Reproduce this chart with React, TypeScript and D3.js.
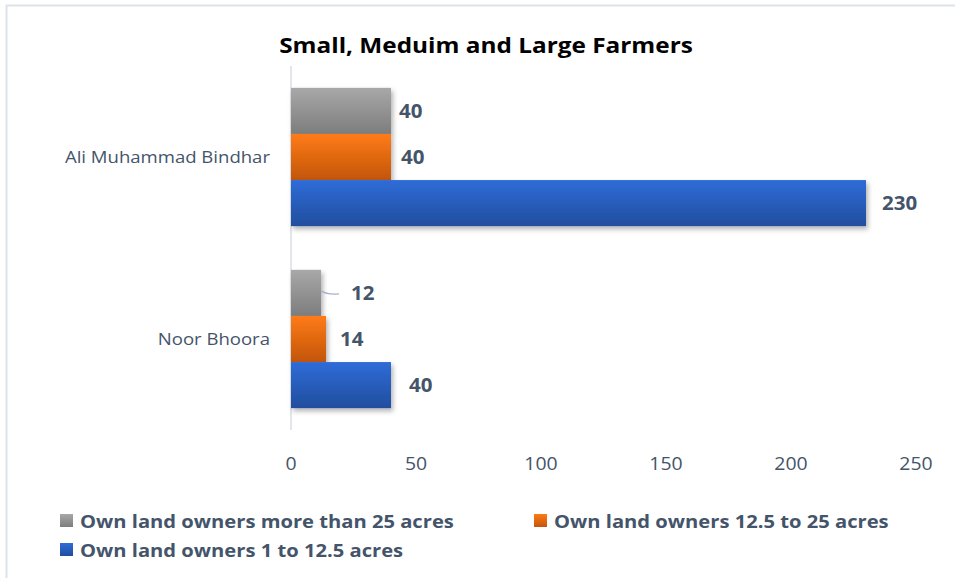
import React from "react";
import * as d3 from "d3";

const categories = ["Ali Muhammad Bindhar", "Noor Bhoora"];
const seriesNames = [
  "Own land owners more than 25 acres",
  "Own land owners 12.5 to 25 acres",
  "Own land owners 1 to 12.5 acres",
];
const grayValues = [40, 12];
const orangeValues = [40, 14];
const blueValues = [230, 40];
const xTicks = [0, 50, 100, 150, 200, 250];

const W = 955;
const H = 578;
const FONT = "'Open Sans', sans-serif";
const TXT = "#44546A";

const seriesValues = [grayValues, orangeValues, blueValues];
const gradients = [
  ["#a8a8a8", "#7d7d7d"],
  ["#ff7b13", "#c2550f"],
  ["#2f6cd8", "#204e9e"],
];

function SText(props: {
  x: number;
  y: number;
  sx: number;
  anchor?: string;
  size: number;
  bold?: boolean;
  fill: string;
  children: React.ReactNode;
}) {
  return (
    <text
      transform={`translate(${props.x},${props.y}) scale(${props.sx},1)`}
      textAnchor={props.anchor || "start"}
      fontFamily={FONT}
      fontWeight={props.bold ? "bold" : "normal"}
      fontSize={props.size}
      fill={props.fill}
    >
      {props.children}
    </text>
  );
}

export default function App() {
  const x = d3.scaleLinear().domain([0, 250]).range([291, 916]);
  const y0 = d3.scaleBand().domain(categories).range([66, 430]).paddingInner(0.24).paddingOuter(0.12);
  const y1 = d3.scaleBand().domain(seriesNames).range([0, y0.bandwidth()]);

  const labelDx = [
    [8, 8],
    [10, 14],
    [16, 18],
  ];

  return (
    <svg width={W} height={H} style={{ position: "absolute", left: 0, top: 0 }}>
      <defs>
        {gradients.map((g, i) => (
          <linearGradient key={i} id={`g${i}`} x1="0" y1="0" x2="0" y2="1">
            <stop offset="0%" stopColor={g[0]} />
            <stop offset="100%" stopColor={g[1]} />
          </linearGradient>
        ))}
        <filter id="sh" x="-10%" y="-20%" width="130%" height="160%">
          <feDropShadow dx="2" dy="3" stdDeviation="2.5" floodColor="#000" floodOpacity="0.3" />
        </filter>
      </defs>
      <rect x={0} y={0} width={W} height={H} fill="#fff" />
      <rect x={6.5} y={5.5} width={W} height={H} fill="none" stroke="#dde3ea" strokeWidth={2} />
      <SText x={486} y={53} sx={1.16} anchor="middle" size={21} bold fill="#000">
        Small, Meduim and Large Farmers
      </SText>
      <line x1={x(0)} x2={x(0)} y1={66} y2={430} stroke="#d9dee5" strokeWidth={1.5} />
      {categories.map((c, ci) => (
        <g key={c}>
          <SText x={270} y={(y0(c) as number) + y0.bandwidth() / 2 + 6} sx={1.16} anchor="end" size={16} fill={TXT}>
            {c}
          </SText>
          {seriesNames.map((s, si) => {
            const v = seriesValues[si][ci];
            const by = (y0(c) as number) + (y1(s) as number);
            return (
              <rect key={s} x={x(0)} y={by} width={x(v) - x(0)} height={y1.bandwidth()} fill={`url(#g${si})`} filter="url(#sh)" />
            );
          })}
        </g>
      ))}
      {categories.map((c, ci) =>
        seriesNames.map((s, si) => {
          const v = seriesValues[si][ci];
          const by = (y0(c) as number) + (y1(s) as number) + y1.bandwidth() / 2;
          const isLeader = ci === 1 && si === 0;
          const lx = x(v) + labelDx[si][ci] + (isLeader ? 22 : 0);
          return (
            <g key={c + s}>
              {isLeader && (
                <path
                  d={`M${x(v)},${by - 2} Q${x(v) + 6},${by + 2} ${x(v) + 18},${by + 1}`}
                  fill="none"
                  stroke="#a6b3c4"
                  strokeWidth={1.3}
                />
              )}
              <SText x={lx} y={by + 7} sx={1.08} size={19} bold fill={TXT}>
                {v}
              </SText>
            </g>
          );
        })
      )}
      {xTicks.map((t) => (
        <SText key={t} x={x(t)} y={470} sx={1.08} anchor="middle" size={18} fill={TXT}>
          {t}
        </SText>
      ))}
      {[
        { i: 0, lx: 60, ly: 521 },
        { i: 1, lx: 534, ly: 521 },
        { i: 2, lx: 60, ly: 550 },
      ].map(({ i, lx, ly }) => (
        <g key={i}>
          <rect x={lx} y={ly - 7} width={13} height={13} fill={`url(#g${i})`} />
          <SText x={lx + 20} y={ly + 7} sx={1.12} size={18} bold fill={TXT}>
            {seriesNames[i]}
          </SText>
        </g>
      ))}
    </svg>
  );
}
